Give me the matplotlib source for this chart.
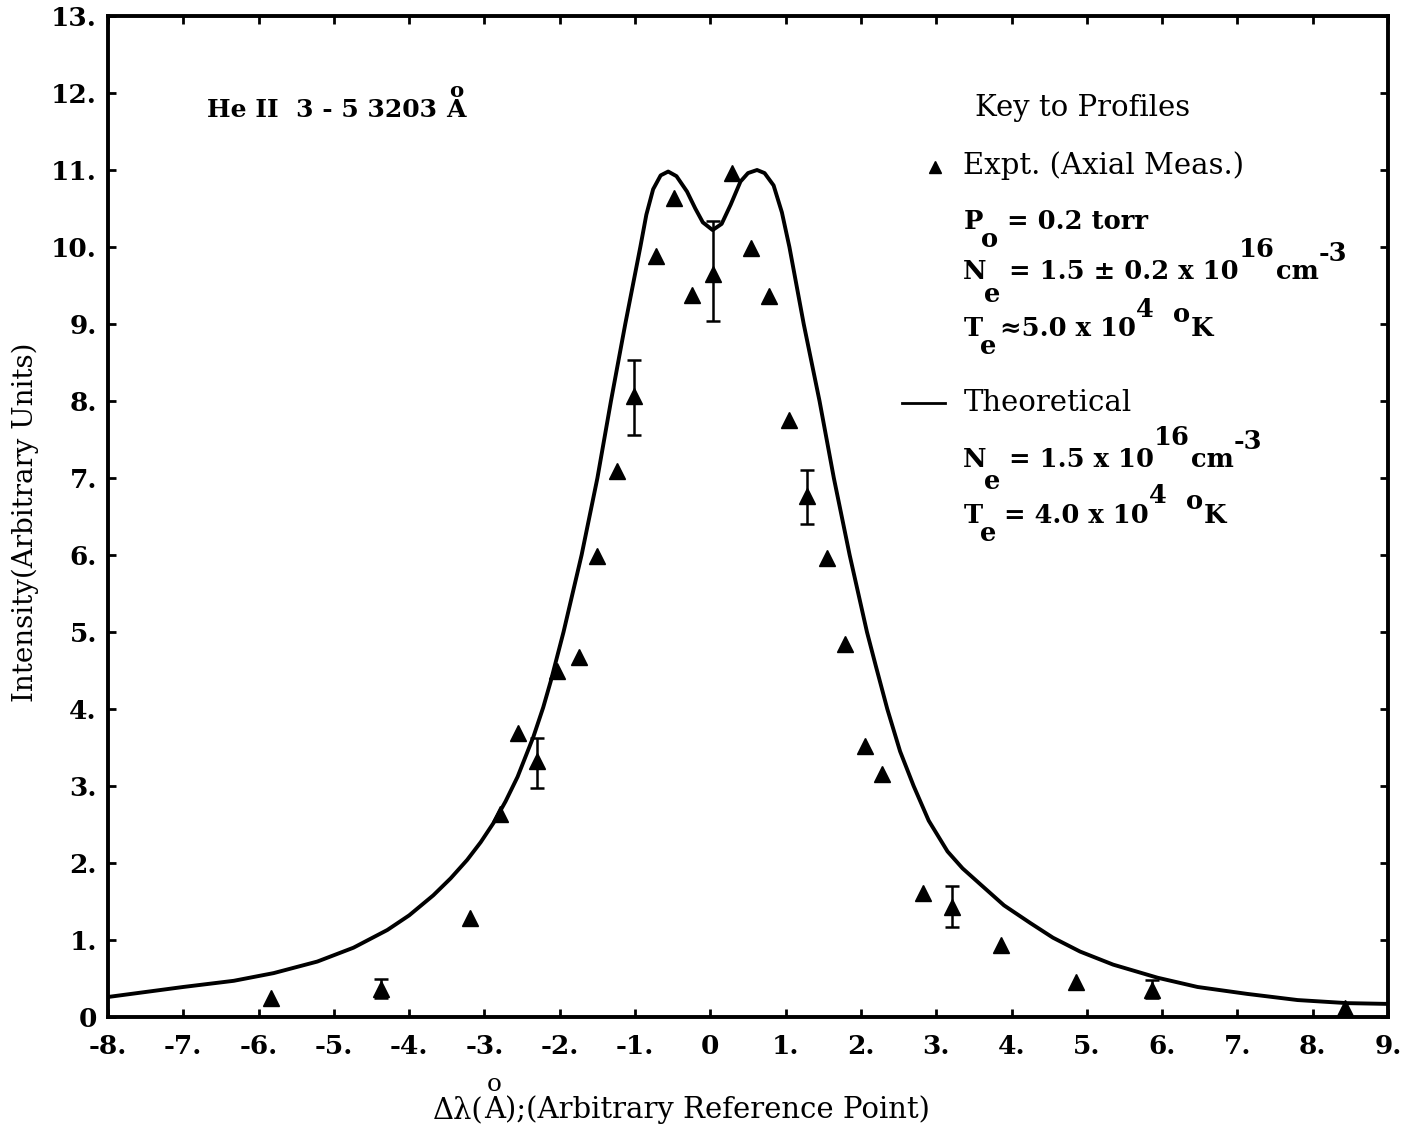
import matplotlib
matplotlib.use("Agg")
import matplotlib.pyplot as plt

plt.rcParams['font.family'] = ['DejaVu Serif']

# experimental points (axial measurement)
expt_x = [-5.84, -4.37, -3.19, -2.80, -2.55, -2.30, -2.04, -1.75, -1.51, -1.24,
          -1.01, -0.72, -0.48, -0.24, 0.04, 0.29, 0.54, 0.78, 1.05, 1.29,
          1.55, 1.79, 2.05, 2.28, 2.82, 3.21, 3.86, 4.85, 5.86, 8.43]
expt_y = [0.25, 0.36, 1.29, 2.63, 3.69, 3.32, 4.49, 4.68, 5.99, 7.09,
          8.06, 9.88, 10.64, 9.38, 9.65, 10.96, 9.99, 9.36, 7.75, 6.76,
          5.96, 4.84, 3.52, 3.15, 1.61, 1.43, 0.94, 0.46, 0.35, 0.12]

# points carrying error bars
err_x = [-4.37, -2.30, -1.01, 0.04, 1.29, 3.21, 5.86]
err_y = [0.36, 3.32, 8.06, 9.65, 6.76, 1.43, 0.35]
err_lo = [0.25, 2.97, 7.56, 9.04, 6.40, 1.17, 0.25]
err_hi = [0.50, 3.62, 8.53, 10.34, 7.11, 1.70, 0.48]

# theoretical profile
theo_x = [-8.0, -7.0, -6.33, -5.8, -5.22, -4.74, -4.29, -4.0, -3.68, -3.45,
          -3.23, -3.05, -2.88, -2.72, -2.56, -2.35, -2.22, -2.12, -1.95, -1.71,
          -1.50, -1.32, -1.13, -0.93, -0.85, -0.76, -0.66, -0.56, -0.45, -0.31,
          -0.20, -0.10, 0.03, 0.15, 0.27, 0.40, 0.50, 0.62, 0.72, 0.84,
          0.95, 1.05, 1.24, 1.45, 1.64, 1.85, 2.08, 2.20, 2.35, 2.52,
          2.70, 2.90, 3.15, 3.35, 3.59, 3.90, 4.25, 4.55, 4.91, 5.35,
          5.94, 6.47, 7.13, 7.80, 8.46, 9.0]
theo_y = [0.26, 0.39, 0.47, 0.57, 0.72, 0.90, 1.13, 1.32, 1.58, 1.80,
          2.04, 2.27, 2.52, 2.80, 3.12, 3.64, 4.02, 4.36, 5.0, 6.0,
          7.0, 8.0, 9.0, 10.0, 10.42, 10.75, 10.93, 10.98, 10.92, 10.72,
          10.50, 10.32, 10.22, 10.30, 10.55, 10.85, 10.96, 11.0, 10.96, 10.80,
          10.45, 10.0, 9.0, 8.0, 7.0, 6.0, 5.0, 4.55, 4.0, 3.45,
          3.0, 2.55, 2.15, 1.93, 1.72, 1.45, 1.22, 1.03, 0.85, 0.68,
          0.51, 0.39, 0.30, 0.22, 0.18, 0.17]

xticks = list(range(-8, 10))
yticks = list(range(0, 14))
xlabels = [f"{v}." if v != 0 else "0" for v in xticks]
ylabels = [f"{v}." if v != 0 else "0" for v in yticks]

fig = plt.figure(figsize=(14.01, 11.29), dpi=100)
ax = fig.add_axes([108/1401, 1 - 1017/1129, 1280/1401, 1001/1129])

ax.plot(theo_x, theo_y, color='black', lw=2.8, solid_joinstyle='round')
ax.errorbar(err_x, err_y,
            yerr=[[a - b for a, b in zip(err_y, err_lo)],
                  [b - a for a, b in zip(err_y, err_hi)]],
            fmt='none', ecolor='black', elinewidth=1.8, capsize=5, capthick=1.8)
ax.plot(expt_x, expt_y, '^', color='black', markersize=11, linestyle='none')

ax.set_xlim(-8, 9)
ax.set_ylim(0, 13)
ax.set_xticks(xticks)
ax.set_xticklabels(xlabels)
ax.set_yticks(yticks)
ax.set_yticklabels(ylabels)
ax.tick_params(direction='in', length=6, width=2, top=True, right=True,
               labelsize=19)
ax.tick_params(axis='x', pad=12)
ax.tick_params(axis='y', pad=8)
for lab in ax.get_xticklabels() + ax.get_yticklabels():
    lab.set_fontweight('bold')
for s in ax.spines.values():
    s.set_linewidth(2.8)


def chain(x, y, pieces, coords='data', size=18.5, weight='bold'):
    # typewriter style: each piece starts where the previous one ends,
    # sub/superscripts are same size, just shifted (dx, dy in points)
    prev = None
    arts = []
    for s, dx, dy in pieces:
        if prev is None:
            a = ax.annotate(s, xy=(x, y), xycoords=coords, xytext=(dx, dy),
                            textcoords='offset points', ha='left', va='baseline',
                            fontsize=size, fontweight=weight, annotation_clip=False)
        else:
            a = ax.annotate(s, xy=(1, y), xycoords=(prev, coords), xytext=(dx, dy),
                            textcoords='offset points', ha='left', va='baseline',
                            fontsize=size, fontweight=weight, annotation_clip=False)
        arts.append(a)
        prev = a
    return arts


def ring_above(art, size, dy=-2):
    ax.annotate("o", xy=(0.5, 1), xycoords=art, xytext=(0, dy),
                textcoords='offset points', ha='center', va='bottom',
                fontsize=size * 0.85, fontweight=art.get_fontweight(),
                annotation_clip=False)


# title of the line
t = chain(-6.68, 11.69, [("He II  3 - 5 3203 ", 0, 0), ("A", 0, 0)], size=18)
ring_above(t[-1], 18, dy=-2)

# key
ax.text(3.52, 11.70, "Key to Profiles", fontsize=21, ha='left', va='baseline')
ax.plot([2.99], [11.04], '^', color='black', markersize=9)
ax.text(3.36, 10.95, "Expt. (Axial Meas.)", fontsize=21, ha='left', va='baseline')
chain(3.36, 10.23, [("P", 0, 0), ("o", -1, -13), ("= 0.2 torr", 6, 0)])
chain(3.36, 9.58, [("N", 0, 0), ("e", -2, -16), ("= 1.5 ± 0.2 x 10", 6, 0),
                   ("16", 0, 16), ("cm", 1, 0), ("-3", 0, 13)])
chain(3.36, 8.84, [("T", 0, 0), ("e", -2, -13), ("≈5.0 x 10", 3, 0),
                   ("4", 0, 14), ("o", 14, 10), ("K", 0, 0)])
ax.plot([2.55, 3.12], [7.97, 7.97], color='black', lw=2)
ax.text(3.36, 7.87, "Theoretical", fontsize=21, ha='left', va='baseline')
chain(3.36, 7.14, [("N", 0, 0), ("e", -2, -16), ("= 1.5 x 10", 6, 0),
                   ("16", 0, 16), ("cm", 1, 0), ("-3", 0, 13)])
chain(3.36, 6.42, [("T", 0, 0), ("e", -2, -13), ("= 4.0 x 10", 6, 0),
                   ("4", 0, 14), ("o", 14, 10), ("K", 0, 0)])

# axis titles
fig.text(25/1401, 1 - 522/1129, "Intensity(Arbitrary Units)", rotation=90,
         fontsize=20, ha='center', va='center')
xl = chain(433/1401, 1 - 1118/1129,
           [("Δλ(", 0, 0), ("A", 0, 0), (");(Arbitrary Reference Point)", 0, 0)],
           coords='figure fraction', size=21, weight='normal')
ring_above(xl[1], 21, dy=0)

fig.savefig("out.png", dpi=100)
